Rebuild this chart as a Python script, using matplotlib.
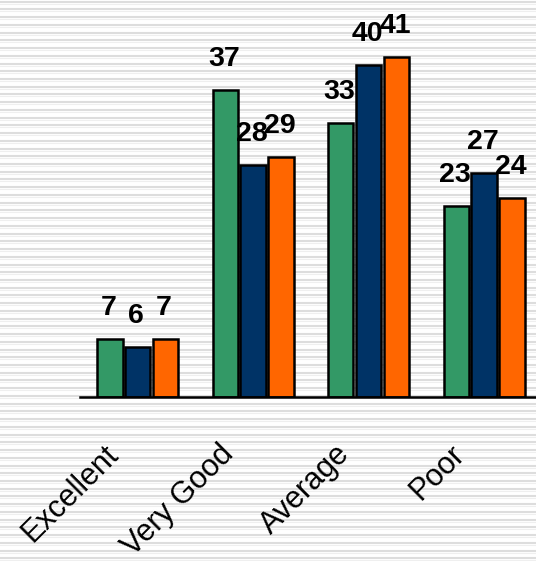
import matplotlib
matplotlib.use("Agg")
import matplotlib.pyplot as plt
from matplotlib.lines import Line2D
from matplotlib.transforms import offset_copy
import numpy as np

categories = ["Excellent", "Very Good", "Average", "Poor"]
series_a = [7, 37, 33, 23]
series_b = [6, 28, 40, 27]
series_c = [7, 29, 41, 24]

colors = ["#339966", "#003366", "#FF6600"]

W, H = 536, 561
fig = plt.figure(figsize=(W / 100, H / 100), dpi=100)
fig.patch.set_facecolor("white")

# striped slide background
period = 7.73
y = 1.7
while y < H:
    fig.add_artist(Line2D([0, 1], [1 - y / H, 1 - y / H], transform=fig.transFigure,
                          color="#dddddd", lw=1.5, zorder=0))
    fig.add_artist(Line2D([0, 1], [1 - (y + 2) / H, 1 - (y + 2) / H], transform=fig.transFigure,
                          color="#efefef", lw=0.8, zorder=0))
    y += period

base_px = 397
ax = fig.add_axes([80 / W, 1 - base_px / H, 1 - 80 / W, base_px / H])
ax.patch.set_alpha(0)
for s in ax.spines.values():
    s.set_visible(False)
ax.set_xlim(-0.5, 3.45)
ax.set_ylim(0, base_px / 8.29)
ax.set_xticks([])
ax.set_yticks([])
ax.axhline(0, color="black", lw=1.8, zorder=3, clip_on=False)

x = np.arange(len(categories))
offsets = [-0.241, 0.0, 0.241]
for vals, off, col in zip([series_a, series_b, series_c], offsets, colors):
    ax.bar(x + off, vals, width=0.22, color=col, edgecolor="black", linewidth=1.8, zorder=2)
    for xi, v in zip(x + off, vals):
        ax.annotate(str(v), (xi, v), xytext=(-1, 17.3), textcoords="offset points",
                    ha="center", va="baseline", fontsize=20.5, fontweight="bold",
                    family="Liberation Sans", color="black", zorder=4)

for i, lab in enumerate(categories):
    tr = offset_copy(ax.get_xaxis_transform(), fig=fig, x=-13, y=-42, units="dots")
    ax.text(i, 0, lab, transform=tr, rotation=45, ha="right", va="top",
            fontsize=22, family="Liberation Sans", color="black")

fig.savefig("out.png", dpi=100)
